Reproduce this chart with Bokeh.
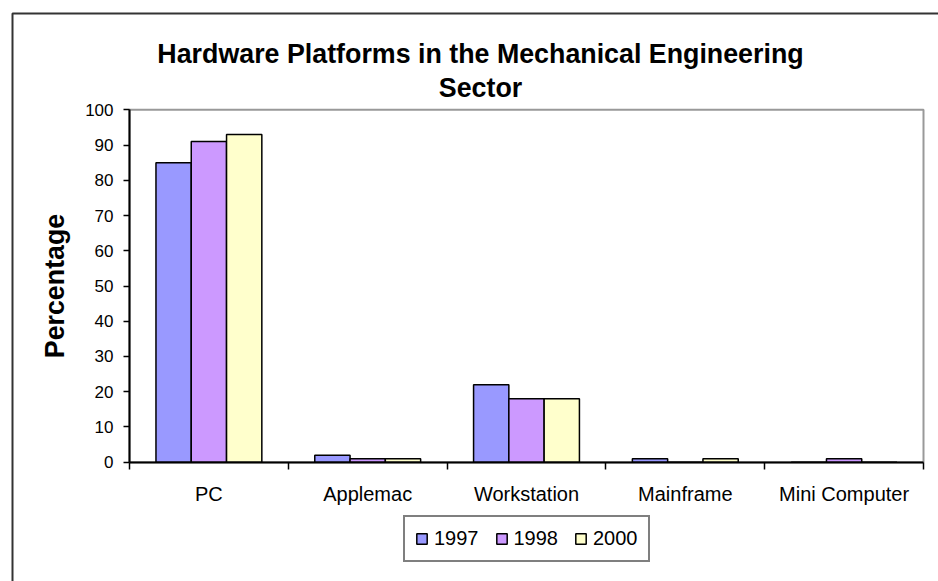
import math
from bokeh.plotting import figure
from bokeh.models import (Range1d, FixedTicker, Label, Legend, LegendItem,
                          ColumnDataSource, BoxAnnotation)
from bokeh.transform import dodge
from bokeh.embed import file_html
from bokeh.resources import INLINE

# ---- data ----
categories = ["PC", "Applemac", "Workstation", "Mainframe", "Mini Computer"]
years = ["1997", "1998", "2000"]
v1997 = [85, 2, 22, 1, 0]
v1998 = [91, 1, 18, 0, 1]
v2000 = [93, 1, 18, 1, 0]
y_ticks = [0, 10, 20, 30, 40, 50, 60, 70, 80, 90, 100]
title_line1 = "Hardware Platforms in the Mechanical Engineering"
title_line2 = "Sector"
y_label = "Percentage"

colors = ["#9999FF", "#CC99FF", "#FFFFCC"]
FONT = "Liberation Sans"

# ---- layout (pixels) ----
W, H = 938, 581
PL, PR, PT, PB = 129.0, 923.0, 109.3, 461.7    # plot-area edges in the canvas
ncat = len(categories)
ymax = 100.0
sx = (PR - PL) / ncat          # px per x unit
sy = (PB - PT) / ymax          # px per y unit
def dx(px): return (px - PL) / sx
def dy(py): return (PB - py) / sy

centers = [i + 0.5 for i in range(ncat)]
src = ColumnDataSource(dict(x=centers, cat=categories,
                            y1997=v1997, y1998=v1998, y2000=v2000))

p = figure(width=W, height=H, output_backend="svg", toolbar_location=None,
           x_range=Range1d(dx(0), dx(W)), y_range=Range1d(dy(H), dy(0)),
           min_border=0)
p.background_fill_color = "white"
p.border_fill_color = "white"
p.outline_line_color = None
p.xgrid.visible = False
p.ygrid.visible = False

# outer chart border and plot-area border
p.add_layout(BoxAnnotation(left=dx(12), top=dy(13), right=dx(W + 20), bottom=dy(H + 20),
                           fill_color=None, line_color="#333333", line_alpha=1.0,
                           line_width=2, level="underlay"))
p.add_layout(BoxAnnotation(left=0, right=ncat, bottom=0, top=ymax,
                           fill_color=None, line_color="#999999", line_alpha=1.0,
                           line_width=2, level="underlay"))

bw = 1 / 4.5
offs = [-bw, 0, bw]
renderers = []
for col, off, c in zip(["y1997", "y1998", "y2000"], offs, colors):
    r = p.vbar(x=dodge("x", off, range=p.x_range), top=col, bottom=0,
               width=bw, source=src, fill_color=c, line_color="black",
               line_width=1.5)
    renderers.append(r)

# x axis: labels centred, ticks between categories (minor ticks)
xa = p.xaxis[0]
xa.fixed_location = 0
xa.bounds = (0, ncat)
xa.ticker = FixedTicker(ticks=centers, minor_ticks=list(range(ncat + 1)))
xa.major_label_overrides = {c: n for c, n in zip(centers, categories)}
xa.major_tick_out = 0
xa.major_tick_in = 0
xa.minor_tick_out = 7
xa.minor_tick_in = 0
xa.minor_tick_line_color = "black"
xa.minor_tick_line_width = 1.5
xa.axis_line_color = "black"
xa.axis_line_width = 2
xa.major_label_text_font = FONT
xa.major_label_text_font_size = "20px"
xa.major_label_text_color = "black"
xa.major_label_standoff = 14

ya = p.yaxis[0]
ya.fixed_location = 0
ya.bounds = (0, ymax)
ya.ticker = FixedTicker(ticks=y_ticks, minor_ticks=[])
ya.major_tick_out = 6
ya.major_tick_in = 0
ya.major_tick_line_color = "black"
ya.major_tick_line_width = 1.5
ya.axis_line_color = "black"
ya.axis_line_width = 2
ya.major_label_text_font = FONT
ya.major_label_text_font_size = "17px"
ya.major_label_text_color = "black"
ya.major_label_standoff = 10

# axis title
p.add_layout(Label(x=dx(54), y=ymax / 2, text=y_label, angle=math.pi / 2,
                   text_align="center", text_baseline="middle", text_font=FONT,
                   text_font_size="26.8px", text_font_style="bold",
                   text_color="black"))

# chart title (two centred lines)
for txt, py in zip([title_line1, title_line2], [53, 87]):
    p.add_layout(Label(x=dx(480), y=dy(py), text=txt, text_align="center",
                       text_baseline="alphabetic", text_font=FONT,
                       text_font_size="26.8px", text_font_style="bold",
                       text_color="black"))

legend = Legend(items=[LegendItem(label=y, renderers=[r]) for y, r in zip(years, renderers)],
                orientation="horizontal", location=(403, H - 562))
legend.border_line_color = "black"
legend.border_line_width = 2
legend.background_fill_color = "white"
legend.padding = 10
legend.spacing = 16
legend.margin = 0
legend.glyph_width = 13
legend.glyph_height = 13
legend.label_standoff = 6
legend.label_text_font = FONT
legend.label_text_font_size = "20px"
legend.label_text_color = "black"
p.add_layout(legend, "center")

open("out.html", "w").write(file_html(p, INLINE))
